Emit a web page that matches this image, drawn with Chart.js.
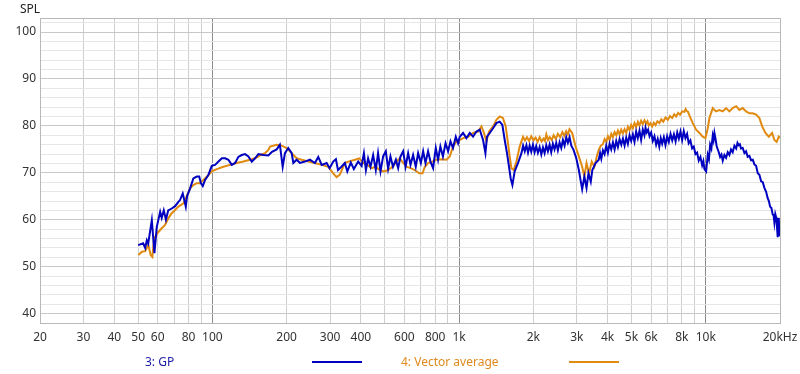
<!DOCTYPE html>
<html><head><meta charset="utf-8">
<script src="https://cdn.jsdelivr.net/npm/chart.js@4"></script>
<style>
html,body{margin:0;padding:0;background:#fff;}
#wrap{position:relative;width:800px;height:374px;overflow:hidden;}
canvas{position:absolute;left:0;top:0;}
.t{position:absolute;font-family:'Noto Sans',sans-serif;font-size:12px;line-height:16px;white-space:nowrap;}
.ln{position:absolute;height:2px;}
</style></head><body>
<div id="wrap"><canvas id="c" width="800" height="374"></canvas>
<div class="t" style="left:20px;top:1px;color:#222">SPL</div>
<div class="t" style="left:145px;top:354px;color:#1c1ca8">3: GP</div>
<div class="ln" style="left:312px;top:361px;width:50px;background:#0000c0"></div>
<div class="t" style="left:401px;top:354px;color:#e08a20">4: Vector average</div>
<div class="ln" style="left:569px;top:361px;width:50px;background:#e08a10"></div>
</div>
<script>
const seriesNames = ["3: GP", "4: Vector average"];
const xTickValues = [20,30,40,50,60,70,80,90,100,200,300,400,500,600,700,800,900,1000,2000,3000,4000,5000,6000,7000,8000,9000,10000,20000];
const xTickLabels = ["20","30","40","50","60","","80","","100","200","300","400","","600","","800","","1k","2k","3k","4k","5k","6k","","8k","","10k","20kHz"];
const yTickValues = [40,42,44,46,48,50,52,54,56,58,60,62,64,66,68,70,72,74,76,78,80,82,84,86,88,90,92,94,96,98,100,102,103];

const gpFreq = [50,52.4,53.4,54.2,54.9,56.8,58.2,59.5,61.4,62.3,63.5,64.8,66.2,68.4,70.6,72.8,73.9,75.8,76.6,78.0,78.9,81.2,83.7,86.5,88.4,89.8,91.4,93.4,96.2,99.4,
102.5,105.8,109.2,112.6,116.1,119.8,123.6,127.4,131.5,135.6,139.9,144.4,148.9,153.6,160.9,168.6,174.4,182.2,187.7,192.7,196.8,203,209.6,212.8,219.5,226.4,237.2,248.5,260.2,268.6,277.4,290.4,298.6,
308.8,316.7,322.9,333.5,344.4,352.3,364,374.5,390,402.6,411.3,419.1,427.7,437.4,448.3,459.6,469.4,480.3,492.1,504.7,515.6,526.9,539.6,554.4,566.2,578.9,593.4,606.7,621.6,635.5,651,667.4,682.3,700,715,730.8,748.6,765.6,784.6,804.5,821.8,839.8,859.9,881.4,902.5,922.8,944.7,969.7,990.7,
1006,1038,1071,1105,1139,1176,1213,1251,1279,1298,1331,1373,1417,1461,1498,1531,1564,1594,1619,1645,1680,1734,
1790,1818,1846,1875,1903,1932,1962,1993,2024,2055,2087,2121,2155,2188,2222,2257,2292,2328,2364,2400,2438,2476,2515,2555,2596,2636,2677,2719,2761,2805,2851,2911,2986,
3059,3107,3155,3221,3286,3346,3419,3469,3577,
3684,3730,3772,3830,3889,3950,4011,4075,4139,4205,4270,4337,4404,4475,4547,4617,4688,4760,4834,4910,4986,5064,5142,5222,5304,5388,5472,5556,5642,5700,5760,5838,5917,6008,6101,6197,6294,6387,6481,6570,6660,6763,6866,6975,7085,7200,7314,7430,7546,7663,7781,7900,8022,8146,8272,8400,8528,8666,8806,8944,9084,9225,9367,9517,9670,9780,9880,10037,
10188,10300,10419,10540,10675,10760,10844,10960,11080,11260,11437,11580,11718,11900,12090,12280,12470,12660,12860,13070,13290,13450,13600,13750,13900,14120,14350,14570,14790,15030,15270,15510,15750,16000,16250,16500,16770,17030,17290,17560,17830,18030,18230,18460,18690,18840,18980,19140,19290,19440,19580,19680,19770,19880,20000];
const gpSPL = [54.6,55.0,54.0,55.6,54.9,59.9,52.9,58.5,61.7,60.4,62.0,60.0,62.0,62.4,62.9,63.8,64.2,65.6,64.6,62.8,65.0,66.7,68.8,69.2,69.2,67.8,67.2,68.5,69.5,71.5,
71.7,72.4,73.1,73.1,72.8,71.7,72.1,73.4,73.8,74.0,73.5,72.4,73.1,74.0,73.8,73.7,74.5,75.0,76.0,71.3,74.2,75.3,74.2,72.1,72.8,72.1,72.4,72.8,72.1,73.4,71.7,72.1,71.0,
72.4,72.9,70.6,71.3,72.1,70.3,72.2,70.8,72.4,71.5,74.2,70.6,73.1,71.3,73.8,70.6,74.2,70.3,73.5,74.6,70.9,73.5,71.3,72.8,71.0,73.5,74.6,71.3,74.2,71.7,73.8,71.3,74.2,72.1,74.6,72.1,74.6,72.4,71.0,75.3,72.8,75.6,73.5,76.3,74.6,76.7,75.3,77.7,76.3,
77.7,78.5,77.4,78.5,77.7,78.8,79.2,77.0,74.2,77.7,78.5,79.5,80.6,80.9,80.2,77.0,74.2,71.3,68.8,67.4,70.3,72.1,
74.2,75.8,74.6,75.9,74.3,75.8,74.5,76.0,74.4,75.7,74.3,75.5,73.9,75.4,74.2,75.9,74.6,76.0,74.4,76.2,75.0,76.4,74.8,76.5,75.3,77.0,75.8,77.6,76.4,77.6,75.8,74.9,73.1,
70.6,68.5,66.5,69.2,66.8,69.9,68.1,70.6,72.1,
72.8,74.2,73.0,74.8,74.0,75.8,74.3,76.2,75.0,76.5,75.0,76.8,75.5,77.2,76.0,77.3,75.8,77.5,76.2,78.0,76.8,78.2,76.6,78.8,77.4,79.0,77.0,79.2,78.0,79.6,78.6,79.2,77.8,78.6,76.8,77.8,76.0,77.2,75.6,77.4,76.2,77.6,75.9,77.8,76.6,78.3,76.9,78.2,76.7,78.6,77.3,78.8,77.0,78.9,77.4,78.3,76.3,76.9,75.2,75.6,74.0,74.3,72.6,73.4,71.6,72.5,70.8,70.3,
73.8,72.9,76.0,75.2,77.9,77.0,78.5,77.2,75.6,74.6,73.4,73.9,72.6,73.8,73.2,74.4,73.8,75.0,74.4,75.8,75.2,76.4,75.9,76.1,75.2,75.3,74.2,74.6,73.4,73.6,72.7,72.8,71.8,71.5,69.9,69.6,68.2,68.0,66.8,66.0,64.6,64.0,62.8,62.5,61.1,61.0,59.4,61.2,60.5,58.5,56.3,59.8,60.4,57.0,56.5];

const vaFreq = [50.1,51.8,53.4,55.0,56.2,57.1,58.0,60.4,62.3,64.3,66.2,68.4,70.6,72.8,76.3,78.6,81.2,83.7,86.5,89.2,91.9,94.9,99.4,
104.2,110.8,117.9,125.5,133.5,142.1,148.9,156.9,163.4,168.6,171.2,182.2,190.8,200,209.6,219.5,230,245,260.2,277.4,294.8,
308.8,318.7,328.6,344.4,355.7,378,393.7,408.6,424.2,442.3,459.6,476.8,495.4,515.6,536.6,557.6,574.6,593.4,612.4,635.5,661.3,689.2,711.2,726.3,748.6,778.4,809.8,848.3,889,916.9,944.7,976,
1006,1038,1088,1139,1194,1232,1262,1291,1323,1373,1417,1461,1506,1546,1579,1604,1630,1665,1708,1761,
1816,1850,1885,1923,1962,2002,2043,2082,2121,2160,2201,2230,2258,2294,2330,2373,2417,2466,2515,2570,2623,2670,2716,2760,2803,2874,
2967,3059,3155,3221,3286,3364,3450,3535,3630,
3684,3755,3829,3890,3951,4013,4075,4140,4203,4270,4338,4405,4472,4540,4612,4686,4761,4835,4910,4985,5061,5142,5224,5305,5388,5470,5556,5645,5734,5805,5878,5970,6067,6160,6258,6370,6487,6605,6727,6870,7020,7165,7314,7450,7588,7728,7868,8030,8196,8290,8372,8480,8593,8857,9143,9430,9724,9972,
10188,10350,10675,10990,11360,11718,12090,12470,12860,13290,13690,14120,14570,15030,15510,16000,16500,16930,17460,18010,18580,18980,19390,19770,20000];
const vaSPL = [52.5,53.2,53.3,54.6,52.5,52.1,56.0,57.4,58.2,58.9,60.3,61.4,62.1,62.8,63.5,65.0,66.7,67.4,67.8,67.8,68.5,69.2,70.3,
70.8,71.3,71.7,72.1,72.4,72.8,73.1,73.8,74.2,74.9,75.6,76.0,75.8,75.3,74.2,73.1,72.8,72.4,72.1,71.7,71.3,
69.9,69.1,69.6,72.1,72.4,72.8,73.1,72.1,71.7,71.0,71.3,70.6,70.3,70.6,71.3,72.4,73.1,72.1,71.3,71.0,70.6,69.9,69.9,71.3,72.1,72.4,72.8,72.9,72.8,73.5,75.6,76.7,
77.0,77.4,77.7,78.5,78.8,79.9,78.5,76.7,78.8,79.9,81.3,82.0,81.7,79.9,76.3,73.5,71.0,70.6,72.4,75.6,
77.7,76.9,77.6,76.8,77.8,76.9,77.5,76.6,77.6,76.7,77.3,76.8,78.2,77.0,77.6,77.0,78.0,77.2,78.3,77.6,78.7,77.9,78.9,78.2,79.3,78.5,
75.6,73.5,71.3,69.2,72.1,69.9,72.4,71.3,73.8,
74.9,75.8,76.1,77.2,76.6,77.8,77.0,78.3,77.6,78.7,78.0,79.0,78.2,79.2,78.4,79.3,78.5,79.8,79.1,80.2,79.5,80.6,79.8,80.9,80.1,81.1,80.4,81.2,80.5,81.0,80.1,80.6,79.9,80.7,80.2,81.0,80.6,81.4,80.9,81.8,81.3,82.1,81.7,82.5,82.0,82.8,82.4,83.1,83.0,83.6,83.2,83.0,82.2,80.6,79.2,78.5,77.7,77.4,
79.5,81.7,83.8,83.1,83.4,83.1,83.8,83.1,83.8,84.2,83.4,83.8,83.1,82.7,82.7,82.4,81.7,79.9,78.5,77.7,78.5,77.0,76.6,77.7,77.4];

const toPts = (fs, vs) => fs.slice(0, Math.min(fs.length, vs.length)).map((f, i) => ({x: f, y: vs[i]}));

new Chart(document.getElementById('c'), {
  type: 'line',
  data: {
    datasets: [
      {label: seriesNames[0], data: toPts(gpFreq, gpSPL), borderColor: '#0000c0', borderWidth: 2, pointRadius: 0, tension: 0, fill: false},
      {label: seriesNames[1], data: toPts(vaFreq, vaSPL), borderColor: '#e08a10', borderWidth: 2, pointRadius: 0, tension: 0, fill: false}
    ]
  },
  options: {
    responsive: false,
    devicePixelRatio: 1,
    animation: false,
    events: [],
    layout: {padding: {left: 0, top: 18, right: 20, bottom: 0}},
    plugins: {legend: {display: false}, tooltip: {enabled: false}, title: {display: false}},
    scales: {
      x: {
        type: 'logarithmic', min: 20, max: 20000,
        afterBuildTicks: s => { s.ticks = xTickValues.map(v => ({value: v})); },
        afterFit: s => { s.height = 51; s.paddingLeft = 0; s.paddingRight = 0; },
        ticks: {
          autoSkip: false, maxRotation: 0, minRotation: 0, padding: 7,
          color: '#333', font: {family: 'Noto Sans', size: 12},
          callback: v => { const i = xTickValues.indexOf(v); return i >= 0 ? xTickLabels[i] : ''; }
        },
        grid: {
          drawTicks: false, lineWidth: 1,
          color: ctx => { const v = ctx.tick && ctx.tick.value; if (v === 100 || v === 1000 || v === 10000) return '#8c8c8c'; if (v === 20000) return '#b8b8b8'; return '#cfcfcf'; }
        },
        border: {display: true, color: '#b8b8b8'}
      },
      y: {
        type: 'linear', min: 38, max: 103,
        afterBuildTicks: s => { s.ticks = yTickValues.map(v => ({value: v})); },
        afterFit: s => { s.width = 40; s.paddingTop = 0; s.paddingBottom = 0; },
        ticks: {
          autoSkip: false, padding: 4, color: '#333', font: {family: 'Noto Sans', size: 12},
          callback: v => (v % 10 === 0 ? String(v) : '')
        },
        grid: {
          drawTicks: false, lineWidth: 1,
          color: ctx => { const v = ctx.tick && ctx.tick.value; if (v === 103) return '#b8b8b8'; return v % 10 === 0 ? '#c8c8c8' : '#e6e6e6'; }
        },
        border: {display: true, color: '#b8b8b8'}
      }
    }
  }
});
</script>
</body></html>
